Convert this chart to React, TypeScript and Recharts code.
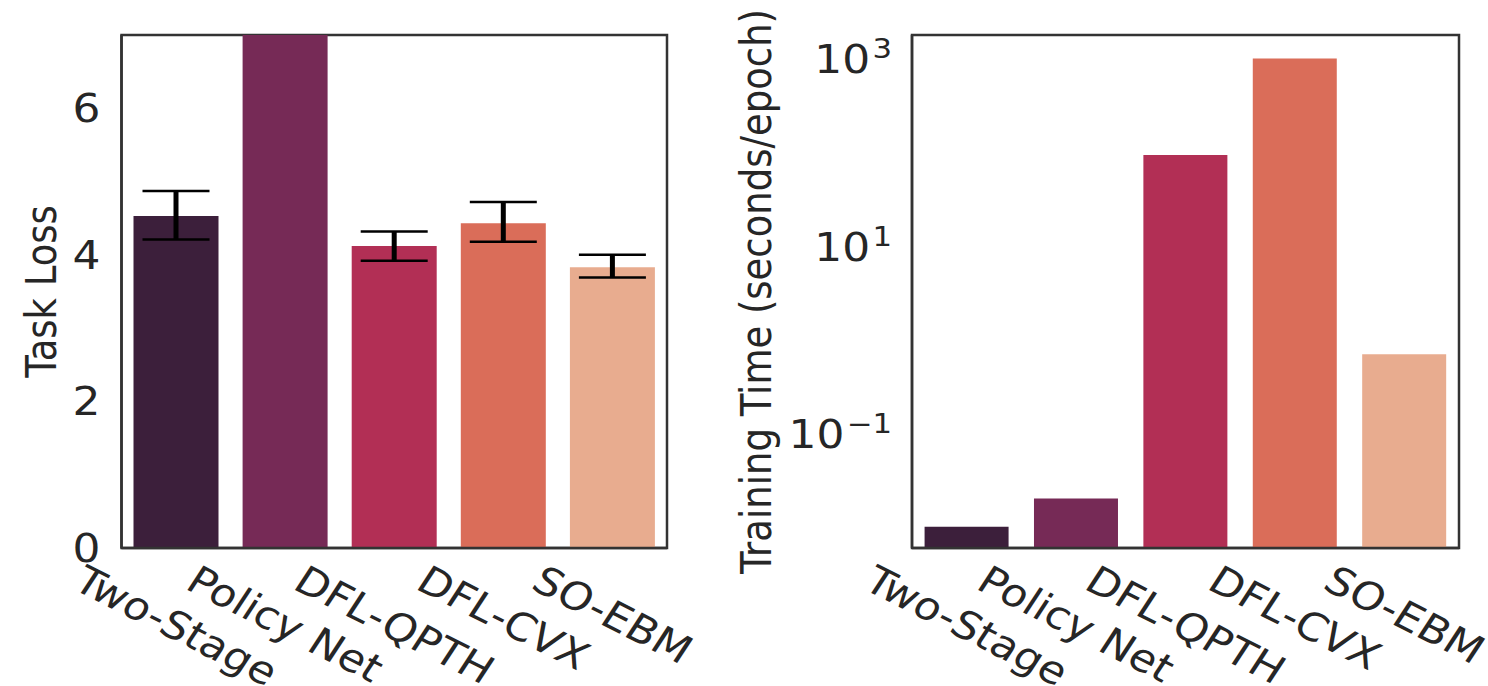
import React from 'react';
import { BarChart, Bar, XAxis, YAxis, ErrorBar, Cell, Label, ReferenceArea } from 'recharts';

// ---------- data ----------
const methods = ['Two-Stage', 'Policy Net', 'DFL-QPTH', 'DFL-CVX', 'SO-EBM'];
const taskLoss = [4.53, 9.0, 4.12, 4.43, 3.83];
const taskLossLow = [4.21, 8.7, 3.92, 4.18, 3.69];
const taskLossHigh = [4.87, 9.3, 4.32, 4.72, 4.0];
const trainTime = [0.0095, 0.019, 88, 940, 0.66];
const lossTicks = [0, 2, 4, 6];
const timeTicks = [0.1, 10, 1000];
const lossDomain = [0, 7];
const timeDomain = [0.00564, 1675];
const barColors = ['#3c1f3b', '#762a56', '#b22f55', '#da6d59', '#e8ac8f'];

const lossData = methods.map((m, i) => ({
  method: m,
  loss: taskLoss[i],
  err: [taskLoss[i] - taskLossLow[i], taskLossHigh[i] - taskLoss[i]],
}));
const timeData = methods.map((m, i) => ({ method: m, time: trainTime[i] }));

// ---------- styling ----------
const FONT = '"DejaVu Sans", Verdana, sans-serif';
const SX = 1.14; // horizontal stretch of the reference raster
const XTICK_FS = 38.5;
const TICK_FS = 38.5;
const TITLE_FS = 37;
const TEXT_COLOR = '#262626';
const FRAME_COLOR = '#333333';
const FRAME_W = 2.5;
const FRAME = { stroke: FRAME_COLOR, strokeWidth: FRAME_W };

const stretchAbout = (ax: number, ay: number, extra = '') =>
  `translate(${ax}, ${ay}) scale(${SX}, 1) ${extra} translate(${-ax}, ${-ay})`;

let ctx: CanvasRenderingContext2D | null = null;
function textWidth(s: string, size: number): number {
  try {
    if (!ctx && typeof document !== 'undefined') {
      ctx = document.createElement('canvas').getContext('2d');
    }
    if (ctx) {
      ctx.font = `${size}px "DejaVu Sans"`;
      return ctx.measureText(s).width;
    }
  } catch (e) {}
  return s.length * size * 0.6;
}

const XTick = (props: any) => {
  const { x, y, payload } = props;
  const label = String(payload.value);
  const w = textWidth(label, XTICK_FS);
  const cy = y + 12 + w / 4 + 0.433 * XTICK_FS;
  return (
    <text
      x={x}
      y={cy}
      textAnchor="middle"
      dominantBaseline="central"
      transform={stretchAbout(x, cy, 'rotate(30)')}
      fontFamily={FONT}
      fontSize={XTICK_FS}
      fill={TEXT_COLOR}
    >
      {label}
    </text>
  );
};

const LinearYTick = (props: any) => {
  const { x, y, payload } = props;
  const ax = x - 21;
  const by = y + (0.729 * TICK_FS) / 2;
  return (
    <text
      x={ax}
      y={by}
      textAnchor="end"
      transform={stretchAbout(ax, by)}
      fontFamily={FONT}
      fontSize={TICK_FS}
      fill={TEXT_COLOR}
    >
      {payload.value}
    </text>
  );
};

const LogYTick = (props: any) => {
  const { x, y, payload } = props;
  const exp = Math.round(Math.log10(payload.value));
  const supFs = TICK_FS * 0.7;
  const rise = 15;
  const ax = x - 20;
  const baseline = y + (rise + 0.729 * supFs) / 2;
  return (
    <text
      x={ax}
      y={baseline}
      textAnchor="end"
      transform={stretchAbout(ax, baseline)}
      fontFamily={FONT}
      fontSize={TICK_FS}
      fill={TEXT_COLOR}
    >
      <tspan>10</tspan>
      <tspan dx={2} dy={-rise} fontSize={supFs}>
        {exp < 0 ? '\u2212' + Math.abs(exp) : String(exp)}
      </tspan>
    </text>
  );
};

const makeTitle = (text: string, baselineX: number) => (props: any) => {
  const vb = props.viewBox || { x: 0, y: 0, width: 0, height: 0 };
  const cy = vb.y + vb.height / 2;
  return (
    <text
      x={baselineX}
      y={cy}
      textAnchor="middle"
      transform={stretchAbout(baselineX, cy, 'rotate(-90)')}
      fontFamily={FONT}
      fontSize={TITLE_FS}
      fill={TEXT_COLOR}
    >
      {text}
    </text>
  );
};

const H = 686;

export default function App() {
  return (
    <div
      style={{
        position: 'absolute',
        left: 0,
        top: 0,
        width: 1488,
        height: 686,
        background: '#ffffff',
        overflow: 'hidden',
      }}
    >
      <div style={{ position: 'absolute', left: 0, top: 0 }}>
        <BarChart
          width={720}
          height={H}
          data={lossData}
          margin={{ top: 35, right: 53, bottom: 0, left: 0 }}
          barCategoryGap="11%"
        >
          <XAxis
            dataKey="method"
            height={138}
            interval={0}
            tickSize={0}
            tickMargin={0}
            tickLine={false}
            axisLine={FRAME}
            tick={<XTick />}
          />
          <YAxis
            type="number"
            domain={lossDomain}
            ticks={lossTicks}
            allowDataOverflow
            width={121.5}
            tickSize={0}
            tickMargin={0}
            tickLine={false}
            axisLine={FRAME}
            tick={<LinearYTick />}
          >
            <Label content={makeTitle('Task Loss', 56)} />
          </YAxis>
          <Bar dataKey="loss" isAnimationActive={false}>
            {lossData.map((d, i) => (
              <Cell key={d.method} fill={barColors[i]} />
            ))}
            <ErrorBar dataKey="err" width={33.5} strokeWidth={2.5} stroke="#000000" direction="y" />
            <ErrorBar dataKey="err" width={0} strokeWidth={5} stroke="#000000" direction="y" />
          </Bar>
          <ReferenceArea
            y1={lossDomain[0]}
            y2={lossDomain[1]}
            fill="none"
            fillOpacity={0}
            stroke={FRAME_COLOR}
            strokeWidth={FRAME_W}
            ifOverflow="visible"
          />
        </BarChart>
      </div>
      <div style={{ position: 'absolute', left: 720, top: 0 }}>
        <BarChart
          width={768}
          height={H}
          data={timeData}
          margin={{ top: 35, right: 29, bottom: 0, left: 0 }}
          barCategoryGap="11.5%"
        >
          <XAxis
            dataKey="method"
            height={138}
            interval={0}
            tickSize={0}
            tickMargin={0}
            tickLine={false}
            axisLine={FRAME}
            tick={<XTick />}
          />
          <YAxis
            type="number"
            scale="log"
            domain={timeDomain}
            ticks={timeTicks}
            allowDataOverflow
            width={192}
            tickSize={0}
            tickMargin={0}
            tickLine={false}
            axisLine={FRAME}
            tick={<LogYTick />}
          >
            <Label content={makeTitle('Training Time (seconds/epoch)', 51)} />
          </YAxis>
          <Bar dataKey="time" isAnimationActive={false}>
            {timeData.map((d, i) => (
              <Cell key={d.method} fill={barColors[i]} />
            ))}
          </Bar>
          <ReferenceArea
            y1={timeDomain[0]}
            y2={timeDomain[1]}
            fill="none"
            fillOpacity={0}
            stroke={FRAME_COLOR}
            strokeWidth={FRAME_W}
            ifOverflow="visible"
          />
        </BarChart>
      </div>
    </div>
  );
}
